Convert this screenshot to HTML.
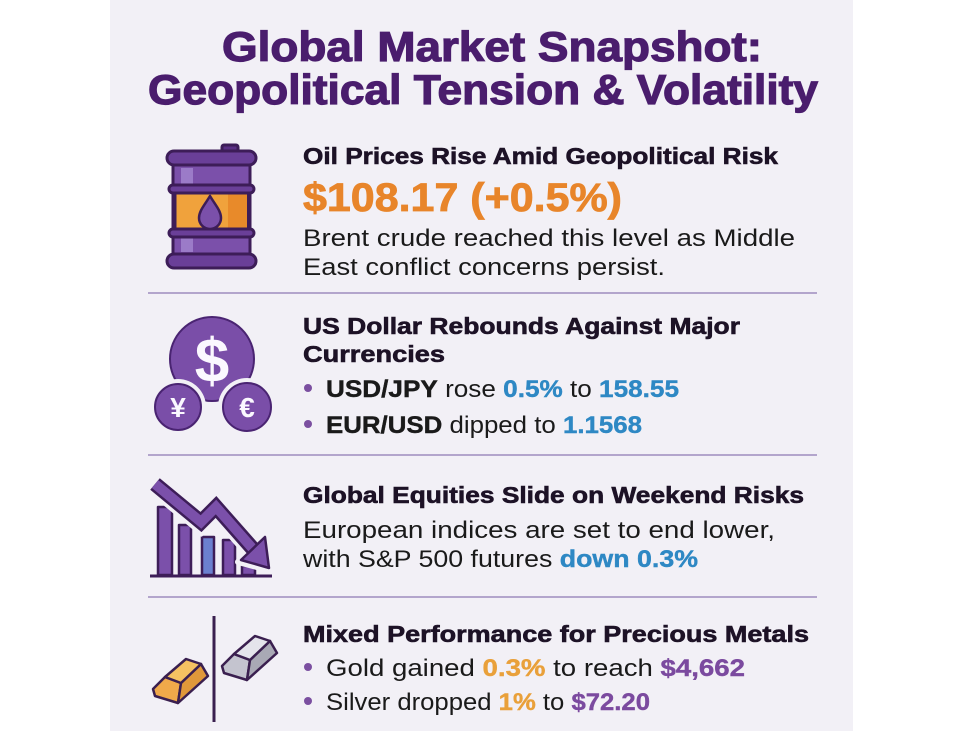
<!DOCTYPE html>
<html>
<head>
<meta charset="utf-8">
<style>
html,body{margin:0;padding:0;background:#ffffff;}
svg{display:block;}
text{font-family:"Liberation Sans",Arial,sans-serif;}
.h{font-weight:700;fill:#1d1226;font-size:23px;stroke:#1d1226;stroke-width:0.6px;}
.b{font-weight:400;fill:#1a1a1a;font-size:24px;}
.bd{font-weight:700;stroke:#1a1a1a;stroke-width:0.4px;}
.blue{fill:#2e88c4;font-weight:700;stroke:#2e88c4;stroke-width:0.4px;}
.gold{fill:#e9a03a;font-weight:700;stroke:#e9a03a;stroke-width:0.4px;}
.pur{fill:#7b4a9f;font-weight:700;stroke:#7b4a9f;stroke-width:0.4px;}
.t{font-size:42px;font-weight:700;fill:#4a1d6d;stroke:#4a1d6d;stroke-width:1.2px;}
</style>
</head>
<body>
<svg width="975" height="731" viewBox="0 0 975 731" xmlns="http://www.w3.org/2000/svg">
  <rect x="0" y="0" width="975" height="731" fill="#ffffff"/>
  <rect x="110" y="0" width="743" height="731" fill="#f2f0f6"/>

  <!-- Title -->
  <text class="t" x="222" y="61" textLength="540" lengthAdjust="spacingAndGlyphs">Global Market Snapshot:</text>
  <text class="t" x="148" y="104" textLength="670" lengthAdjust="spacingAndGlyphs">Geopolitical Tension &amp; Volatility</text>

  <!-- Section 1: Oil barrel -->
  <g stroke="#3d1d58" stroke-width="3" stroke-linejoin="round">
    <rect x="222" y="145" width="16" height="9" rx="2" fill="#5a2f85"/>
    <rect x="173" y="160" width="77" height="98" fill="#7b50aa"/>
    <rect x="181" y="168" width="12" height="18" fill="#9b7bc8" stroke="none"/>
    <rect x="181" y="236" width="12" height="16" fill="#9b7bc8" stroke="none"/>
    <rect x="175" y="190" width="73" height="42" fill="#f0a23c"/>
    <rect x="228" y="191" width="19" height="40" fill="#e88a2a" stroke="none"/>
    <rect x="169" y="185" width="85" height="8" rx="4" fill="#6a3f98"/>
    <rect x="169" y="229" width="85" height="8" rx="4" fill="#6a3f98"/>
    <rect x="167" y="151" width="89" height="14" rx="7" fill="#6a3f98"/>
    <rect x="167" y="254" width="89" height="14" rx="7" fill="#6a3f98"/>
    <path d="M210,196 C204,206 199,211 199,218 A11,11 0 0 0 221,218 C221,211 216,206 210,196 Z" fill="#7b50aa" stroke-width="2.5"/>
  </g>

  <text class="h" x="303" y="164" textLength="475" lengthAdjust="spacingAndGlyphs">Oil Prices Rise Amid Geopolitical Risk</text>
  <text x="303" y="211" font-size="40" font-weight="700" fill="#e8852a" stroke="#e8852a" stroke-width="0.8" textLength="319" lengthAdjust="spacingAndGlyphs">$108.17 (+0.5%)</text>
  <text class="b" x="303" y="246" textLength="492" lengthAdjust="spacingAndGlyphs">Brent crude reached this level as Middle</text>
  <text class="b" x="303" y="275" textLength="362" lengthAdjust="spacingAndGlyphs">East conflict concerns persist.</text>

  <line x1="148" y1="293" x2="817" y2="293" stroke="#b3a5cc" stroke-width="2"/>

  <!-- Section 2: currency icon -->
  <circle cx="212" cy="359" r="42" fill="#7a4ea8" stroke="#4a2472" stroke-width="2"/>
  <text x="212" y="382" font-size="62" font-weight="700" fill="#fbf8ff" text-anchor="middle">$</text>
  <circle cx="178" cy="407" r="28" fill="#f2f0f6"/>
  <circle cx="178" cy="407" r="23" fill="#7a4ea8" stroke="#4a2472" stroke-width="2"/>
  <text x="178" y="417" font-size="28" font-weight="700" fill="#fbf8ff" text-anchor="middle">¥</text>
  <circle cx="247" cy="407" r="29" fill="#f2f0f6"/>
  <circle cx="247" cy="407" r="24" fill="#7a4ea8" stroke="#4a2472" stroke-width="2"/>
  <text x="247" y="417" font-size="28" font-weight="700" fill="#fbf8ff" text-anchor="middle">€</text>

  <text class="h" x="303" y="334" textLength="437" lengthAdjust="spacingAndGlyphs">US Dollar Rebounds Against Major</text>
  <text class="h" x="303" y="362" textLength="142" lengthAdjust="spacingAndGlyphs">Currencies</text>
  <circle cx="308" cy="388" r="4" fill="#7b4fa0"/>
  <text class="b" x="326" y="397" textLength="353" lengthAdjust="spacingAndGlyphs"><tspan class="bd">USD/JPY</tspan> rose <tspan class="blue">0.5%</tspan> to <tspan class="blue">158.55</tspan></text>
  <circle cx="308" cy="424" r="4" fill="#7b4fa0"/>
  <text class="b" x="326" y="433" textLength="316" lengthAdjust="spacingAndGlyphs"><tspan class="bd">EUR/USD</tspan> dipped to <tspan class="blue">1.1568</tspan></text>

  <line x1="148" y1="455" x2="817" y2="455" stroke="#b3a5cc" stroke-width="2"/>

  <!-- Section 3: chart icon -->
  <g stroke="#3d1d58" stroke-width="2.5" stroke-linejoin="round">
    <rect x="158" y="507" width="14" height="68" fill="#7b50aa"/>
    <rect x="179" y="525" width="12" height="50" fill="#7b50aa"/>
    <rect x="202" y="537" width="12" height="38" fill="#6b80cf"/>
    <rect x="223" y="540" width="12" height="35" fill="#7b50aa"/>
    <rect x="242" y="566" width="13" height="9" fill="#7b50aa"/>
  </g>
  <polyline points="155,484 201,522 216,507 253,549" fill="none" stroke="#f2f0f6" stroke-width="22" stroke-linejoin="miter"/>
  <polygon points="238,562 267,535 272,571" fill="#f2f0f6" stroke="#f2f0f6" stroke-width="6" stroke-linejoin="round"/>
  <polyline points="155,484 201,522 216,507 253,549" fill="none" stroke="#3d1d58" stroke-width="15" stroke-linejoin="miter"/>
  <polyline points="155,484 201,522 216,507 253,549" fill="none" stroke="#7b50aa" stroke-width="10" stroke-linejoin="miter"/>
  <polygon points="241,560 265,537 269,568" fill="#7b50aa" stroke="#3d1d58" stroke-width="2.5" stroke-linejoin="round"/>
  <line x1="150" y1="576" x2="272" y2="576" stroke="#3d1d58" stroke-width="3"/>

  <text class="h" x="303" y="503" textLength="501" lengthAdjust="spacingAndGlyphs">Global Equities Slide on Weekend Risks</text>
  <text class="b" x="303" y="538" textLength="472" lengthAdjust="spacingAndGlyphs">European indices are set to end lower,</text>
  <text class="b" x="303" y="567" textLength="395" lengthAdjust="spacingAndGlyphs">with S&amp;P 500 futures <tspan class="blue">down 0.3%</tspan></text>

  <line x1="148" y1="597" x2="817" y2="597" stroke="#b3a5cc" stroke-width="2"/>

  <!-- Section 4: metals icon -->
  <line x1="214" y1="616" x2="214" y2="722" stroke="#3a1f4f" stroke-width="3"/>
  <g stroke="#3a1f4f" stroke-width="2.5" stroke-linejoin="round">
    <polygon points="153,689 165,677 181,683 178,703 155,696" fill="#f0a94a"/>
    <polygon points="181,683 201,664 208,676 178,703" fill="#e0983a"/>
    <polygon points="165,677 186,659 201,664 181,683" fill="#f5c162"/>
  </g>
  <g stroke="#3a1f4f" stroke-width="2.5" stroke-linejoin="round" transform="translate(69,-23)">
    <polygon points="153,689 165,677 181,683 178,703 155,696" fill="#c4c4cf"/>
    <polygon points="181,683 201,664 208,676 178,703" fill="#a9a9b5"/>
    <polygon points="165,677 186,659 201,664 181,683" fill="#e4e4eb"/>
  </g>

  <text class="h" x="303" y="642" textLength="506" lengthAdjust="spacingAndGlyphs">Mixed Performance for Precious Metals</text>
  <circle cx="308" cy="667" r="4" fill="#7b4fa0"/>
  <text class="b" x="326" y="676" textLength="419" lengthAdjust="spacingAndGlyphs">Gold gained <tspan class="gold">0.3%</tspan> to reach <tspan class="pur">$4,662</tspan></text>
  <circle cx="308" cy="701" r="4" fill="#7b4fa0"/>
  <text class="b" x="326" y="710" textLength="324" lengthAdjust="spacingAndGlyphs">Silver dropped <tspan class="gold">1%</tspan> to <tspan class="pur">$72.20</tspan></text>
</svg>
</body>
</html>
